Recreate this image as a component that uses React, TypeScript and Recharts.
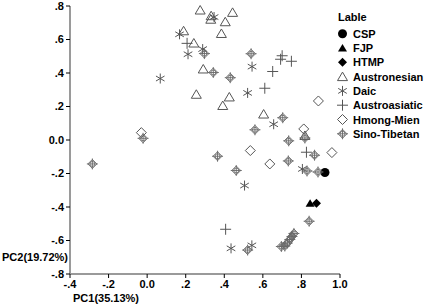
import React from 'react';
import { ScatterChart, Scatter, XAxis, YAxis, Legend, Label } from 'recharts';

// PCA coordinates: [PC1, PC2]
const csp = [[0.922, -0.194]];
const fjp = [[0.845, -0.378]];
const htmp = [[0.878, -0.378]];
const austronesian = [
  [0.275, 0.776], [0.332, 0.742], [0.33, 0.721], [0.443, 0.762], [0.405, 0.706],
  [0.385, 0.636], [0.189, 0.652], [0.242, 0.579], [0.291, 0.424], [0.255, 0.273],
  [0.426, 0.257], [0.392, 0.206], [0.604, 0.155], [0.818, 0.027],
];
const daic = [
  [0.168, 0.631], [0.347, 0.734], [0.288, 0.543], [0.212, 0.512], [0.068, 0.367],
  [0.544, 0.438], [0.521, 0.281], [0.656, 0.094], [0.805, -0.173], [0.505, -0.272],
  [0.435, -0.647], [0.543, -0.629],
];
const austroasiatic = [
  [0.207, 0.577], [0.7, 0.503], [0.692, 0.482], [0.748, 0.47], [0.651, 0.409],
  [0.61, 0.309], [0.826, -0.073], [0.407, -0.533],
];
const hmongMien = [
  [-0.03, 0.044], [0.888, 0.233], [0.812, 0.066], [0.535, -0.063], [0.636, -0.143],
  [0.958, -0.075],
];
const sinoTibetan = [
  [-0.284, -0.143], [-0.021, 0.01], [0.297, 0.516], [0.343, 0.403], [0.431, 0.372],
  [0.539, 0.515], [0.703, 0.133], [0.559, 0.061], [0.818, 0.012], [0.734, -0.005],
  [0.365, -0.097], [0.868, -0.091], [0.732, -0.125], [0.462, -0.182], [0.829, -0.185],
  [0.886, -0.191], [0.84, -0.485], [0.521, -0.657], [0.696, -0.636], [0.714, -0.633],
  [0.727, -0.615], [0.74, -0.594], [0.751, -0.576], [0.761, -0.558],
];

const xTicks = [-0.4, -0.2, 0, 0.2, 0.4, 0.6, 0.8, 1.0];
const xTickLabels = ['-.4', '-.2', '0.0', '.2', '.4', '.6', '.8', '1.0'];
const yTicks = [-0.8, -0.6, -0.4, -0.2, 0, 0.2, 0.4, 0.6, 0.8];
const yTickLabels = ['-.8', '-.6', '-.4', '-.2', '0.0', '.2', '.4', '.6', '.8'];

const series = [
  { name: 'CSP', kind: 'circle', data: csp },
  { name: 'FJP', kind: 'solidTriangle', data: fjp },
  { name: 'HTMP', kind: 'solidDiamond', data: htmp },
  { name: 'Austronesian', kind: 'triangle', data: austronesian },
  { name: 'Daic', kind: 'asterisk', data: daic },
  { name: 'Austroasiatic', kind: 'plus', data: austroasiatic },
  { name: 'Hmong-Mien', kind: 'diamond', data: hmongMien },
  { name: 'Sino-Tibetan', kind: 'crossDiamond', data: sinoTibetan },
];

const FONT = '"Liberation Sans", Arial, sans-serif';
const INK = '#555';

const drawSymbol = (kind: string, cx: number, cy: number) => {
  const s = { stroke: INK, strokeWidth: 1, fill: 'none' };
  switch (kind) {
    case 'circle':
      return <circle cx={cx} cy={cy} r={4.5} fill="#000" />;
    case 'solidTriangle':
      return <path d={`M${cx},${cy - 4}L${cx + 4.5},${cy + 3.5}L${cx - 4.5},${cy + 3.5}Z`} fill="#000" />;
    case 'solidDiamond':
      return <path d={`M${cx},${cy - 4.5}L${cx + 4.5},${cy}L${cx},${cy + 4.5}L${cx - 4.5},${cy}Z`} fill="#000" />;
    case 'triangle':
      return <path d={`M${cx},${cy - 4.5}L${cx + 5},${cy + 4}L${cx - 5},${cy + 4}Z`} {...s} />;
    case 'asterisk':
      return (
        <path
          d={`M${cx},${cy - 5}L${cx},${cy + 5}M${cx - 4.3},${cy - 2.5}L${cx + 4.3},${cy + 2.5}M${cx - 4.3},${cy + 2.5}L${cx + 4.3},${cy - 2.5}`}
          {...s}
        />
      );
    case 'plus':
      return <path d={`M${cx - 5.5},${cy}L${cx + 5.5},${cy}M${cx},${cy - 5.5}L${cx},${cy + 5.5}`} {...s} />;
    case 'diamond':
      return <path d={`M${cx},${cy - 5}L${cx + 5},${cy}L${cx},${cy + 5}L${cx - 5},${cy}Z`} {...s} />;
    default: {
      const t = { stroke: '#666', strokeWidth: 0.9, fill: 'none' };
      return (
        <g>
          <path d={`M${cx},${cy - 4.5}L${cx + 4.5},${cy}L${cx},${cy + 4.5}L${cx - 4.5},${cy}Z`} {...t} />
          <circle cx={cx} cy={cy} r={2.5} {...t} />
          <path d={`M${cx - 5.5},${cy}L${cx + 5.5},${cy}M${cx},${cy - 5.5}L${cx},${cy + 5.5}`} {...t} />
        </g>
      );
    }
  }
};

const pickLabel = (ticks: number[], labels: string[]) => (v: number) => {
  const i = ticks.findIndex(t => Math.abs(t - v) < 1e-6);
  return i >= 0 ? labels[i] : String(v);
};

const tickStyle = { fontSize: 11, fontWeight: 'bold', fill: '#000', fontFamily: FONT };

const renderLegend = () => (
  <svg width={92} height={140} style={{ display: 'block' }}>
    <text x={5} y={16.7} fontSize={11} fontWeight="bold" fontFamily={FONT} fill="#000">Lable</text>
    {series.map((s, i) => {
      const cy = 29.7 + i * 14.3;
      return (
        <g key={s.name}>
          {drawSymbol(s.kind, 9.5, cy)}
          <text x={20} y={cy + 4} fontSize={11} fontWeight="bold" fontFamily={FONT} fill="#000">{s.name}</text>
        </g>
      );
    })}
  </svg>
);

export default function App() {
  return (
    <div style={{ position: 'fixed', left: 0, top: 0, width: 425, height: 306, background: '#fff' }}>
      <ScatterChart width={425} height={306} margin={{ top: 6, right: 85, left: 0, bottom: 0 }}>
        <XAxis
          type="number"
          dataKey="x"
          domain={[-0.4, 1.0]}
          ticks={xTicks}
          tickFormatter={pickLabel(xTicks, xTickLabels)}
          height={32}
          axisLine={{ stroke: '#9a9a9a', strokeWidth: 2 }}
          tickLine={{ stroke: '#000' }}
          tickSize={4}
          tickMargin={2}
          tick={tickStyle}
          interval={0}
        >
          <Label
            content={() => (
              <text x={73} y={301.5} fontSize={11} fontWeight="bold" fontFamily={FONT} fill="#000">PC1(35.13%)</text>
            )}
          />
        </XAxis>
        <YAxis
          type="number"
          dataKey="y"
          domain={[-0.8, 0.8]}
          ticks={yTicks}
          tickFormatter={pickLabel(yTicks, yTickLabels)}
          width={70}
          axisLine={{ stroke: '#9a9a9a', strokeWidth: 2 }}
          tickLine={{ stroke: '#000' }}
          tickSize={4}
          tickMargin={2}
          tick={tickStyle}
          interval={0}
        >
          <Label
            content={() => (
              <text x={2} y={260.5} fontSize={11} fontWeight="bold" fontFamily={FONT} fill="#000">PC2(19.72%)</text>
            )}
          />
        </YAxis>
        <Legend
          layout="vertical"
          align="center"
          verticalAlign="middle"
          content={renderLegend}
          wrapperStyle={{ position: 'absolute', left: 333, top: 4, width: 92 }}
        />
        {series.map(s => (
          <Scatter
            key={s.name}
            name={s.name}
            data={s.data.map(([x, y]) => ({ x, y }))}
            isAnimationActive={false}
            shape={(p: any) => drawSymbol(s.kind, p.cx, p.cy)}
          />
        ))}
      </ScatterChart>
    </div>
  );
}
